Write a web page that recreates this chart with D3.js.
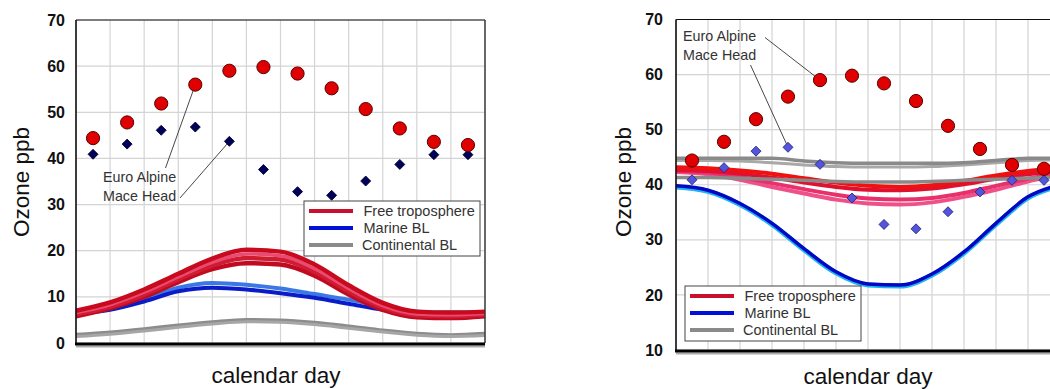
<!DOCTYPE html>
<html>
<head>
<meta charset="utf-8">
<script src="https://cdn.jsdelivr.net/npm/d3@7"></script>
<style>
  body { margin: 0; background: #fff; }
  svg { display: block; font-family: "Liberation Sans", Arial, sans-serif; }
</style>
</head>
<body>
<svg id="chart" width="1050" height="389"></svg>
<script>
// month boundaries (model curves) and month centres (observations)
const monthEdges = [0, 1, 2, 3, 4, 5, 6, 7, 8, 9, 10, 11, 12];
const monthMids = [0.5, 1.5, 2.5, 3.5, 4.5, 5.5, 6.5, 7.5, 8.5, 9.5, 10.5, 11.5];
const leftTicks = [0, 10, 20, 30, 40, 50, 60, 70];
const rightTicks = [10, 20, 30, 40, 50, 60, 70];

// observations (ppb)
const euroAlpine = [44.4, 47.8, 51.9, 56.0, 59.0, 59.8, 58.4, 55.2, 50.7, 46.5, 43.6, 42.9];
const maceHead = [40.9, 43.1, 46.1, 46.8, 43.7, 37.6, 32.8, 32.0, 35.1, 38.7, 40.8, 40.8];

// left panel model curves
const leftFree1 = [7.0, 8.8, 11.6, 15.0, 18.3, 20.2, 19.8, 17.0, 12.5, 8.7, 6.8, 6.6, 6.8];
const leftFree2 = [6.6, 8.3, 11.0, 14.3, 17.5, 19.3, 18.9, 16.1, 11.8, 8.1, 6.3, 6.1, 6.4];
const leftFree3 = [6.2, 7.9, 10.5, 13.8, 16.8, 18.4, 18.1, 15.4, 11.2, 7.7, 6.0, 5.8, 6.1];
const leftFree4 = [5.8, 7.5, 10.0, 13.2, 16.0, 17.3, 17.0, 14.6, 10.5, 7.2, 5.6, 5.4, 5.8];
const leftMarine1 = [6.6, 7.6, 9.6, 12.0, 13.0, 12.6, 11.8, 10.6, 9.4, 8.0, 6.8, 6.6, 6.6];
const leftMarine2 = [6.3, 7.2, 9.0, 11.2, 12.0, 11.6, 10.8, 9.8, 8.5, 7.2, 6.4, 6.4, 6.4];
const leftCont1 = [1.8, 2.3, 3.0, 3.8, 4.5, 5.0, 4.9, 4.4, 3.6, 2.7, 2.0, 1.7, 2.0];
const leftCont2 = [1.4, 1.9, 2.6, 3.4, 4.1, 4.6, 4.5, 4.0, 3.2, 2.4, 1.7, 1.4, 1.6];

// right panel model curves
const rightFree1 = [43.2, 43.0, 42.6, 42.0, 41.2, 40.4, 39.8, 39.6, 39.9, 40.7, 41.7, 42.5, 43.1];
const rightFree2 = [42.7, 42.5, 42.0, 41.3, 40.4, 39.6, 39.1, 39.0, 39.3, 40.1, 41.1, 41.9, 42.6];
const rightFree3 = [42.5, 42.2, 41.4, 40.3, 39.2, 38.2, 37.5, 37.3, 37.6, 38.5, 39.8, 41.1, 42.2];
const rightFree4 = [42.3, 41.9, 40.9, 39.6, 38.4, 37.3, 36.6, 36.4, 36.8, 37.8, 39.1, 40.6, 41.9];
const rightMarine1 = [39.6, 38.8, 36.4, 32.8, 28.2, 24.0, 21.8, 21.6, 23.6, 27.6, 32.8, 37.6, 39.8];
const rightMarine2 = [39.8, 39.0, 36.6, 33.0, 28.4, 24.2, 22.0, 21.8, 23.8, 27.8, 33.0, 37.8, 40.0];
const rightCont1 = [44.8, 44.8, 44.8, 44.8, 44.3, 44.0, 43.9, 43.9, 43.9, 44.0, 44.4, 44.8, 44.8];
const rightCont2 = [44.4, 44.4, 44.3, 44.0, 43.6, 43.3, 43.2, 43.2, 43.3, 43.6, 44.0, 44.4, 44.5];
const rightCont3 = [41.3, 41.3, 41.2, 41.0, 40.8, 40.6, 40.5, 40.5, 40.6, 40.8, 41.0, 41.2, 41.4];

const legendItems = ["Free troposphere", "Marine BL", "Continental BL"];
const legendColors = ["#c8102e", "#0010d8", "#8a8a8a"];

const svg = d3.select("#chart");

function drawPanel(p) {
  const x = d3.scaleLinear().domain([0, 12]).range([p.left, p.right]);
  const y = d3.scaleLinear().domain(p.domain).range([p.bottom, p.top]);
  const g = svg.append("g");

  // grid
  g.append("g").selectAll("line.v").data(monthEdges).enter().append("line")
    .attr("x1", d => x(d)).attr("x2", d => x(d))
    .attr("y1", p.top).attr("y2", p.bottom)
    .attr("stroke", "#d4d4d4").attr("stroke-width", 1.2);
  g.append("g").selectAll("line.h").data(p.ticks).enter().append("line")
    .attr("x1", p.left).attr("x2", p.right)
    .attr("y1", d => y(d)).attr("y2", d => y(d))
    .attr("stroke", "#d4d4d4").attr("stroke-width", 1.2);

  // model curves
  const line = d3.line().x((d, i) => x(monthEdges[i])).y(d => y(d)).curve(d3.curveMonotoneX);
  p.curves.forEach(c => {
    g.append("path").attr("d", line(c.values)).attr("fill", "none")
      .attr("stroke", c.color).attr("stroke-width", c.width)
      .attr("stroke-linejoin", "round");
  });

  // frame
  g.append("line").attr("x1", p.left).attr("x2", p.right).attr("y1", p.top).attr("y2", p.top)
    .attr("stroke", "#111").attr("stroke-width", 1.2);
  g.append("line").attr("x1", p.left).attr("x2", p.left).attr("y1", p.top).attr("y2", p.bottom)
    .attr("stroke", "#111").attr("stroke-width", 1.6);
  g.append("line").attr("x1", p.right).attr("x2", p.right).attr("y1", p.top).attr("y2", p.bottom)
    .attr("stroke", "#333").attr("stroke-width", 1.4);
  g.append("line").attr("x1", p.left).attr("x2", p.right).attr("y1", p.bottom + 3.5).attr("y2", p.bottom + 3.5)
    .attr("stroke", "#aaa").attr("stroke-width", 2);
  g.append("line").attr("x1", p.left - 1).attr("x2", p.right).attr("y1", p.bottom + 1).attr("y2", p.bottom + 1)
    .attr("stroke", "#000").attr("stroke-width", 3);

  // y axis labels
  const yAxis = d3.axisLeft(y).tickValues(p.ticks).tickSize(0).tickPadding(p.tickPad);
  const ax = g.append("g").attr("transform", `translate(${p.left},0)`).call(yAxis);
  ax.select(".domain").remove();
  ax.selectAll("text").attr("font-size", 16).attr("font-weight", "bold")
    .attr("fill", "#111").attr("font-family", "'Liberation Sans', Arial, sans-serif");

  g.append("text").text("Ozone ppb")
    .attr("transform", `translate(${p.yTitleX},182) rotate(-90)`)
    .attr("text-anchor", "middle").attr("dominant-baseline", "central")
    .attr("font-size", 22.5).attr("fill", "#111");
  g.append("text").text("calendar day")
    .attr("x", p.xTitleX).attr("y", p.xTitleY)
    .attr("text-anchor", "middle").attr("font-size", 22.5).attr("fill", "#111");

  // leader lines for annotations (drawn under the markers)
  const ann = p.annotation;
  g.append("line").attr("x1", ann.eaFrom[0]).attr("y1", ann.eaFrom[1])
    .attr("x2", x(monthMids[ann.eaIndex])).attr("y2", y(euroAlpine[ann.eaIndex]))
    .attr("stroke", "#333").attr("stroke-width", 0.9);
  g.append("line").attr("x1", ann.mhFrom[0]).attr("y1", ann.mhFrom[1])
    .attr("x2", x(monthMids[ann.mhIndex])).attr("y2", y(maceHead[ann.mhIndex]))
    .attr("stroke", "#333").attr("stroke-width", 0.9);
  g.append("text").text("Euro Alpine").attr("x", ann.textX).attr("y", ann.textY)
    .attr("font-size", 14.3).attr("fill", "#333");
  g.append("text").text("Mace Head").attr("x", ann.textX).attr("y", ann.textY + 18.5)
    .attr("font-size", 14.3).attr("fill", "#333");

  // observations
  g.append("g").selectAll("path").data(maceHead).enter().append("path")
    .attr("d", d3.symbol(d3.symbolSquare, 50)())
    .attr("transform", (d, i) => `translate(${x(monthMids[i])},${y(d)}) rotate(45)`)
    .attr("fill", p.diamondFill).attr("stroke", p.diamondStroke).attr("stroke-width", 0.8);
  g.append("g").selectAll("circle").data(euroAlpine).enter().append("circle")
    .attr("cx", (d, i) => x(monthMids[i])).attr("cy", d => y(d)).attr("r", 6.6)
    .attr("fill", "#e00000").attr("stroke", "#5a0000").attr("stroke-width", 1);

  // legend
  const lg = g.append("g").attr("transform", `translate(${p.legend[0]},${p.legend[1]})`);
  lg.append("rect").attr("width", 176).attr("height", 55).attr("fill", "#fff")
    .attr("stroke", "#444").attr("stroke-width", 1);
  legendItems.forEach((name, i) => {
    lg.append("line").attr("x1", 5).attr("x2", 49).attr("y1", 10 + i * 17).attr("y2", 10 + i * 17)
      .attr("stroke", legendColors[i]).attr("stroke-width", 4);
    lg.append("text").text(name).attr("x", i === 2 ? 58 : 59.5).attr("y", 10 + i * 17)
      .attr("dominant-baseline", "central").attr("font-size", 14.5).attr("fill", "#333");
  });
}

drawPanel({
  left: 76, right: 485, top: 20, bottom: 343, domain: [0, 70], ticks: leftTicks, tickPad: 11,
  yTitleX: 21, xTitleX: 276, xTitleY: 383,
  diamondFill: "#000058", diamondStroke: "#000030",
  legend: [304, 201],
  annotation: { textX: 103, textY: 182, eaFrom: [165.5, 168], eaIndex: 3, mhFrom: [180, 198], mhIndex: 4 },
  curves: [
    { values: leftCont1, color: "#8c8c8c", width: 4 },
    { values: leftCont2, color: "#a6a6a6", width: 3 },
    { values: leftMarine1, color: "#3a78e6", width: 4 },
    { values: leftMarine2, color: "#0a1cc8", width: 4 },
    { values: leftFree4, color: "#c00a22", width: 4.5 },
    { values: leftFree3, color: "#d01c30", width: 4.5 },
    { values: leftFree2, color: "#ea4a72", width: 3.5 },
    { values: leftFree1, color: "#c80a1e", width: 4.5 }
  ]
});

drawPanel({
  left: 676, right: 1060, top: 19.5, bottom: 350, domain: [10, 70], ticks: rightTicks, tickPad: 13,
  yTitleX: 623, xTitleX: 868, xTitleY: 384,
  diamondFill: "#5454dc", diamondStroke: "#24247a",
  legend: [685, 286],
  annotation: { textX: 683, textY: 41, eaFrom: [765, 37.5], eaIndex: 4, mhFrom: [750.5, 65], mhIndex: 3 },
  curves: [
    { values: rightCont2, color: "#a8a8a8", width: 3 },
    { values: rightCont1, color: "#8a8a8a", width: 3.5 },
    { values: rightFree4, color: "#f0508a", width: 4 },
    { values: rightFree3, color: "#e8306a", width: 4 },
    { values: rightFree2, color: "#e01030", width: 4 },
    { values: rightFree1, color: "#f01010", width: 4 },
    { values: rightCont3, color: "#8a8a8a", width: 3.5 },
    { values: rightMarine1, color: "#20b4f0", width: 5 },
    { values: rightMarine2, color: "#0008c4", width: 3.5 }
  ]
});
</script>
</body>
</html>
